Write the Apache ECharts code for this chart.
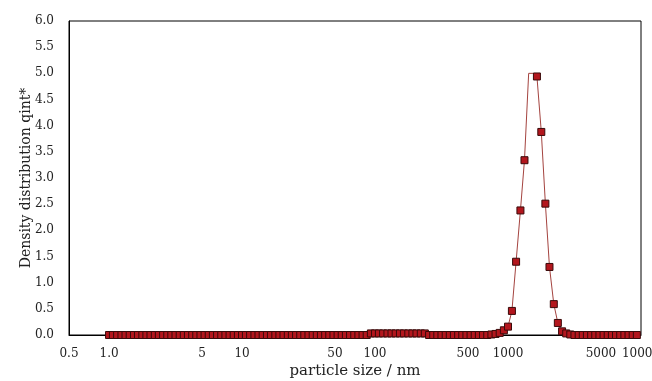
<!DOCTYPE html>
<html>
<head>
<meta charset="utf-8">
<script src="https://cdn.jsdelivr.net/npm/echarts@6/dist/echarts.min.js"></script>
<style>html,body{margin:0;padding:0;background:#fff;}#chart{width:652px;height:381px;}</style>
</head>
<body>
<div id="chart"></div>
<script>
// particle size classes (nm)
const sizes = [
  1.00,1.07,1.15,1.24,1.33,1.43,1.54,1.65,1.78,1.91,2.05,2.21,2.37,2.55,2.74,2.94,3.16,3.40,3.65,3.92,4.22,4.53,4.87,5.23,5.62,6.04,6.49,6.98,7.50,8.06,8.66,9.31,
  10.0,10.7,11.5,12.4,13.3,14.3,15.4,16.5,17.8,19.1,20.5,22.1,23.7,25.5,27.4,29.4,31.6,34.0,36.5,39.2,42.2,45.3,48.7,52.3,56.2,60.4,64.9,69.8,75.0,80.6,86.6,93.1,
  100,107,115,124,133,143,154,165,178,191,205,221,237,255,274,294,316,340,365,392,422,453,487,523,562,604,649,698,750,806,866,931,
  1000,1070,1150,1240,1330,1430,1540,1650,1780,1910,2050,2210,2370,2550,2740,2940,3160,3400,3650,3920,4220,4530,4870,5230,5620,6040,6490,6980,7500,8060,8660,9310
];
// density distribution q_int* (one value per size class)
const density = [
  0,0,0,0,0,0,0,0,0,0,0,0,0,0,0,0,0,0,0,0,0,0,0,0,0,0,0,0,0,0,0,0,
  0,0,0,0,0,0,0,0,0,0,0,0,0,0,0,0,0,0,0,0,0,0,0,0,0,0,0,0,0,0,0,0.03,
  0.03,0.03,0.03,0.03,0.03,0.03,0.03,0.03,0.03,0.03,0.03,0.03,0.03,0,0,0,0,0,0,0,0,0,0,0,0,0,0,0,0.01,0.02,0.04,0.09,
  0.16,0.46,1.40,2.38,3.34,5.00,5.00,4.94,3.88,2.51,1.30,0.59,0.23,0.07,0.03,0.01,0,0,0,0,0,0,0,0,0,0,0,0,0,0,0,0
];
// points drawn without a marker in the original (flat top)
const unmarkedIdx = [101, 102];
const xTickValues = [0.5, 1, 5, 10, 50, 100, 500, 1000, 5000, 10000];
const xTickLabels = ['0.5', '1.0', '5', '10', '50', '100', '500', '1000', '5000', '10000'];
const yAxisTitle = 'Density distribution qint*';
const xAxisTitle = 'particle size / nm';

const FONT = '"DejaVu Serif", "Liberation Serif", serif';
const chart = echarts.init(document.getElementById('chart'), null, {renderer: 'canvas'});
const data = sizes.map((s, i) => [s, density[i]]);
chart.setOption({
  animation: false,
  backgroundColor: '#fff',
  grid: {left: 69, right: 11, top: 21, bottom: 46, show: true, borderColor: '#000', borderWidth: 1,
         backgroundColor: 'transparent', containLabel: false, outerBoundsMode: 'none'},
  xAxis: {
    type: 'log', logBase: 10, min: 0.5, max: 10000,
    name: xAxisTitle, nameLocation: 'middle', nameGap: 29, nameMoveOverlap: false,
    nameTextStyle: {fontFamily: FONT, fontSize: 15, color: '#222'},
    axisLine: {show: true, lineStyle: {color: '#000', width: 1}},
    axisTick: {show: false},
    splitLine: {show: false},
    minorTick: {show: false},
    axisLabel: {
      customValues: xTickValues,
      formatter: v => { const k = xTickValues.findIndex(t => Math.abs(t - v) / t < 1e-6); return k >= 0 ? xTickLabels[k] : ''; },
      fontFamily: FONT, fontSize: 12, color: '#222', margin: 13, hideOverlap: false
    }
  },
  yAxis: {
    type: 'value', min: 0, max: 6, interval: 0.5,
    name: yAxisTitle, nameLocation: 'middle', nameGap: 36, nameRotate: 90, nameMoveOverlap: false,
    nameTextStyle: {fontFamily: FONT, fontSize: 14, color: '#222'},
    axisLine: {show: true, lineStyle: {color: '#000', width: 1}},
    axisTick: {show: false},
    splitLine: {show: false},
    axisLabel: {formatter: v => v.toFixed(1), fontFamily: FONT, fontSize: 12, color: '#222', margin: 15}
  },
  series: [{
    type: 'line',
    data: data,
    symbol: 'rect',
    symbolSize: (val, params) => unmarkedIdx.includes(params.dataIndex) ? 0 : 7,
    showAllSymbol: true,
    clip: false,
    lineStyle: {color: '#a4433f', width: 1},
    itemStyle: {color: '#b3161d', borderColor: '#3a0a0a', borderWidth: 1}
  }]
});
</script>
</body>
</html>
